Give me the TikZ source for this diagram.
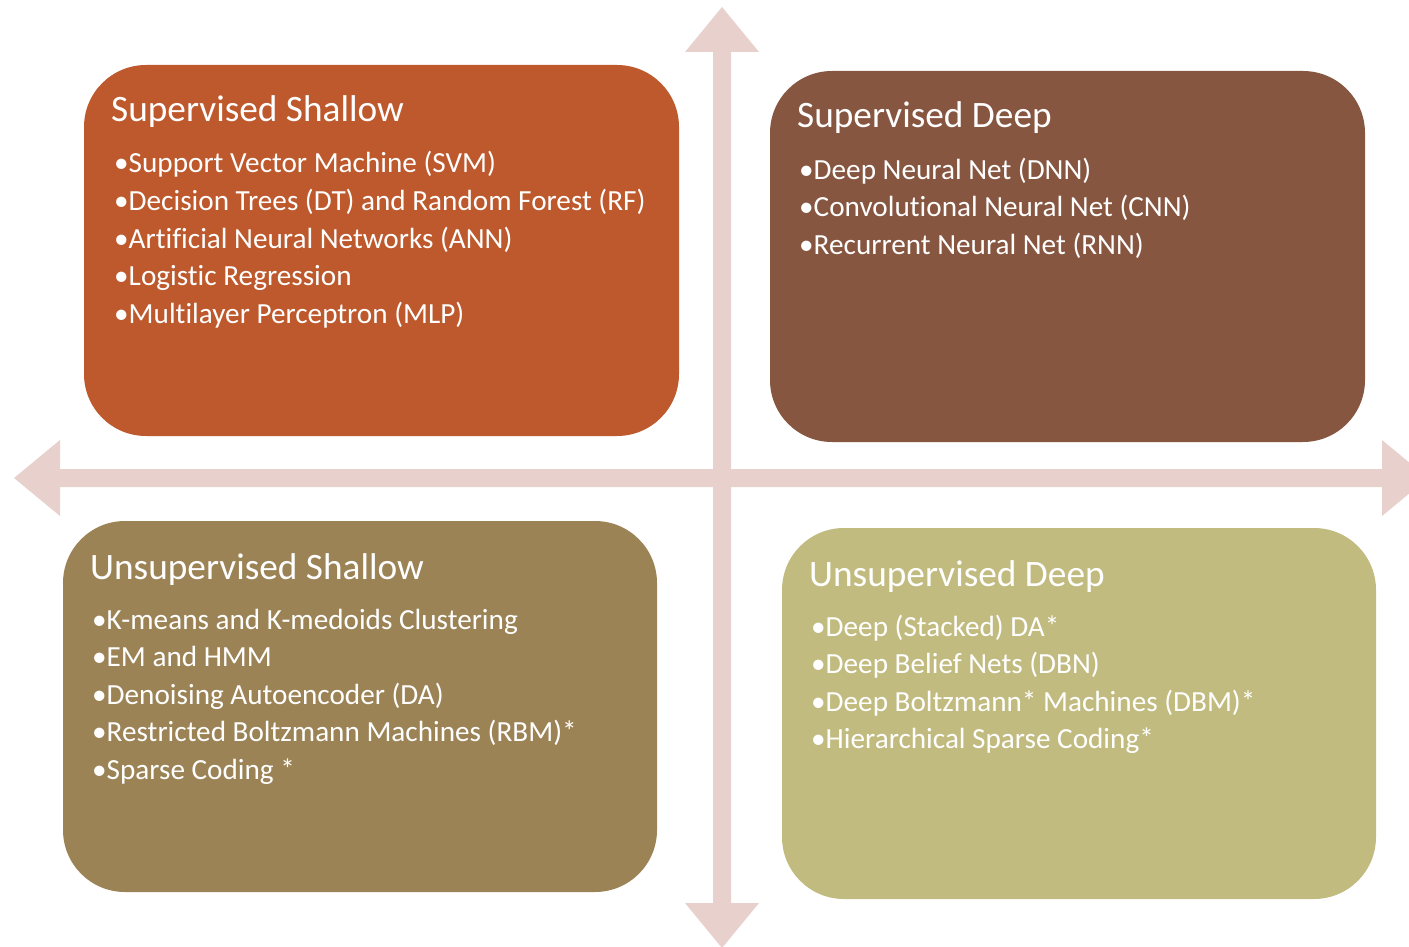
\documentclass[tikz,border=0pt]{standalone}
\usepackage{fontspec}
\setmainfont[Ligatures={NoCommon,NoRequired,NoContextual,NoDiscretionary}]{Carlito}
\definecolor{cOrange}{HTML}{BD592C}
\definecolor{cBrown}{HTML}{875640}
\definecolor{cOlive}{HTML}{9C8356}
\definecolor{cKhaki}{HTML}{C2BB80}
\definecolor{cPink}{HTML}{E8D0CC}
\begin{document}
\begin{tikzpicture}[x=1pt,y=-1pt,
  quad/.style={rounded corners=62pt},
  ttl/.style={anchor=base west,inner sep=0pt,text=white,font=\fontsize{37.3}{40}\selectfont},
  itm/.style={anchor=base west,inner sep=0pt,text=white,font=\fontsize{29.2}{32}\selectfont},
  axis/.style={fill=cPink}]
\useasboundingbox (0,0) rectangle (1409,947);
\begin{scope}
\clip (0,0) rectangle (1409,947);
% vertical double arrow
\fill[axis] (713,52) -- (685,52) -- (722,7) -- (759,52) -- (731,52) -- (731,903) -- (759,903) -- (722,948) -- (685,903) -- (713,903) -- cycle;
% horizontal double arrow
\fill[axis] (60,469) -- (60,440) -- (14,478) -- (60,516) -- (60,487) -- (1382,487) -- (1382,516) -- (1428,478) -- (1382,440) -- (1382,469) -- cycle;
\end{scope}
% quadrants
\fill[cOrange,quad] (84,65) rectangle (679,436);
\fill[cBrown,quad] (770,71) rectangle (1365,442);
\fill[cOlive,quad] (63,521) rectangle (657,892);
\fill[cKhaki,quad] (782,528) rectangle (1376,899);
% Supervised Shallow
\node[ttl] (ssT) at (111,122) {Supervised Shallow};
\node[itm] (ss1) at (114,173) {•Support Vector Machine (SVM)};
\node[itm] (ss2) at (114,210.5) {•Decision Trees (DT) and Random Forest (RF)};
\node[itm] (ss3) at (114,248) {•Artificial Neural Networks (ANN)};
\node[itm] (ss4) at (114,285.5) {•Logistic Regression};
\node[itm] (ss5) at (114,323) {•Multilayer Perceptron (MLP)};
% Supervised Deep
\node[ttl] (sdT) at (797,128) {Supervised Deep};
\node[itm] (sd1) at (799,179) {•Deep Neural Net (DNN)};
\node[itm] (sd2) at (799,216.5) {•Convolutional Neural Net (CNN)};
\node[itm] (sd3) at (799,254) {•Recurrent Neural Net (RNN)};
% Unsupervised Shallow
\node[ttl] (usT) at (90,579) {Unsupervised Shallow};
\node[itm] (us1) at (92,629) {•K-means and K-medoids Clustering};
\node[itm] (us2) at (92,666.5) {•EM and HMM};
\node[itm] (us3) at (92,704) {•Denoising Autoencoder (DA)};
\node[itm] (us4) at (92,741.5) {•Restricted Boltzmann Machines (RBM)*};
\node[itm] (us5) at (92,779) {•Sparse Coding *};
% Unsupervised Deep
\node[ttl] (udT) at (809,586) {Unsupervised Deep};
\node[itm] (ud1) at (811,636) {•Deep (Stacked) DA*};
\node[itm] (ud2) at (811,673.5) {•Deep Belief Nets (DBN)};
\node[itm] (ud3) at (811,711) {•Deep Boltzmann* Machines (DBM)*};
\node[itm] (ud4) at (811,748.5) {•Hierarchical Sparse Coding*};
\end{tikzpicture}
\end{document}
